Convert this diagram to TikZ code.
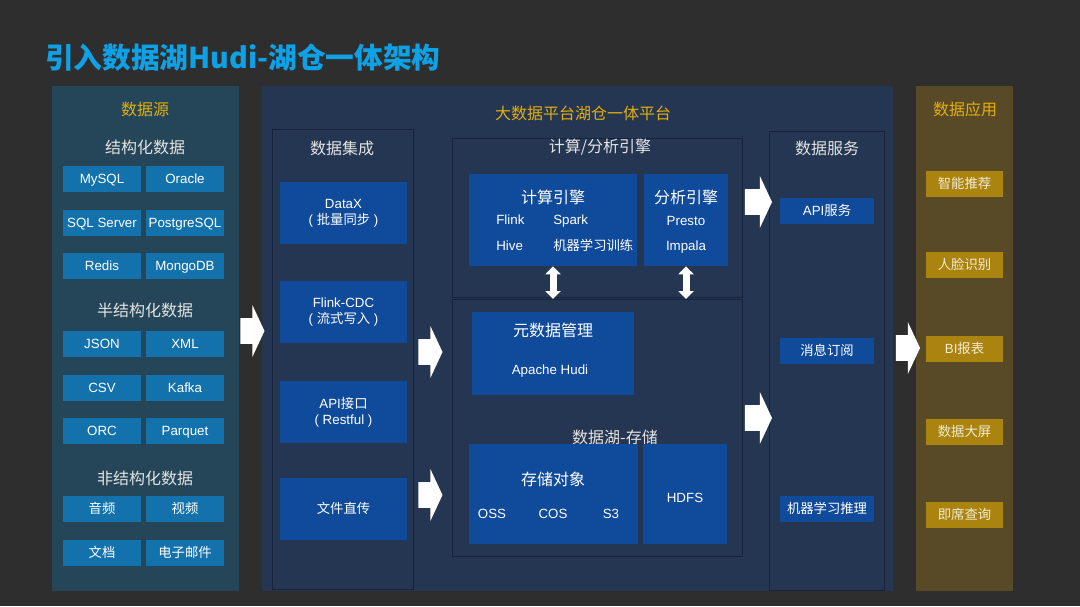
\documentclass[tikz,border=0pt]{standalone}
\usepackage{fontspec}
\setmainfont{Liberation Sans}
\newfontfamily\cjk{Noto Sans CJK SC}
\usepackage{tikz}
\usetikzlibrary{positioning, arrows.meta, shapes.arrows}

\definecolor{bgcol}{HTML}{2E2E2E}
\definecolor{titlecol}{HTML}{0EA1E6}
\definecolor{yellowcol}{HTML}{E2AE0C}
\definecolor{headcol}{HTML}{E3E3E3}
\definecolor{srcpanel}{HTML}{244658}
\definecolor{mainpanel}{HTML}{243652}
\definecolor{framecol}{HTML}{17233A}
\definecolor{boxblue}{HTML}{0F4A9B}
\definecolor{boxsteel}{HTML}{1372AB}
\definecolor{apppanel}{HTML}{594A27}
\definecolor{boxgold}{HTML}{AB8410}
\definecolor{goldtext}{HTML}{F2EAD5}

\begin{document}
\begin{tikzpicture}[x=0.75pt, y=-0.75pt,
  panel/.style={anchor=north west, inner sep=0, outer sep=0, minimum height=378.75pt},
  frame/.style={anchor=north west, inner sep=0, draw=framecol, line width=0.7pt, fill=mainpanel},
  srcbox/.style={fill=boxsteel, minimum width=58.5pt, minimum height=19.5pt, inner sep=0,
                 text height=7.2pt, text depth=0pt, text=white, font=\fontsize{10}{12}\selectfont},
  inbox/.style={fill=boxblue, minimum width=95.25pt, minimum height=46.5pt, inner sep=0,
                align=center, text=white, font=\fontsize{10}{12}\selectfont},
  svcbox/.style={fill=boxblue, minimum width=70.5pt, minimum height=19.5pt, inner sep=0,
                 text height=7.2pt, text depth=0pt, text=white, font=\cjk\fontsize{10}{12}\selectfont},
  appbox/.style={fill=boxgold, minimum width=57.75pt, minimum height=19.5pt, inner sep=0,
                 text height=7.2pt, text depth=0pt, text=goldtext, font=\cjk\fontsize{10}{12}\selectfont},
  bigbox/.style={fill=boxblue, inner sep=0},
  hdr/.style={text=headcol, font=\cjk\fontsize{12}{14}\selectfont},
  yhdr/.style={text=yellowcol, font=\cjk\fontsize{12}{14}\selectfont},
  item/.style={text=white, font=\fontsize{10}{12}\selectfont, inner sep=0,
               text height=7.2pt, text depth=0pt},
  flow/.style={single arrow, fill=white, inner xsep=0pt, inner ysep=9.4pt,
               single arrow head extend=10pt, single arrow tip angle=130, minimum height=18pt},
  dbl/.style={{Triangle[width=11.25pt,length=6pt]}-{Triangle[width=11.25pt,length=6pt]},
              line width=5.25pt, white},
]
% canvas
\fill[bgcol] (0,0) rectangle (1080,606);
\useasboundingbox (0,0) rectangle (1080,606);

\node[anchor=west, inner sep=0, text=titlecol, font=\cjk\bfseries\fontsize{21.5}{26}\selectfont] (title) at (45,58)
  {引入数据湖Hudi-湖仓一体架构};

% three panels
\node[panel, fill=srcpanel, minimum width=140.25pt] (src) at (52,86) {};
\node[panel, fill=mainpanel, minimum width=473.25pt] (main) at (262,86) {};
\node[panel, fill=apppanel, minimum width=72.75pt] (app) at (916,86) {};

\node[yhdr] (srctitle) at (145,109) {数据源};
\node[yhdr] (maintitle) at (583,113) {大数据平台湖仓一体平台};
\node[yhdr] (apptitle) at (965,109) {数据应用};

% data sources
\node[hdr] (struct) at (145,147) {结构化数据};
\node[srcbox] (mysql) at (102,178.5) {MySQL};
\node[srcbox] (oracle) at (185,178.5) {Oracle};
\node[srcbox] (sqlserver) at (102,222.5) {SQL Server};
\node[srcbox] (pg) at (185,222.5) {PostgreSQL};
\node[srcbox] (redis) at (102,266) {Redis};
\node[srcbox] (mongo) at (185,266) {MongoDB};

\node[hdr] (semi) at (145,310) {半结构化数据};
\node[srcbox] (json) at (102,343.5) {JSON};
\node[srcbox] (xml) at (185,343.5) {XML};
\node[srcbox] (csv) at (102,388) {CSV};
\node[srcbox] (kafka) at (185,388) {Kafka};
\node[srcbox] (orc) at (102,431) {ORC};
\node[srcbox] (parquet) at (185,431) {Parquet};

\node[hdr] (unstruct) at (145,478) {非结构化数据};
\node[srcbox, font=\cjk\fontsize{10}{12}\selectfont] (audio) at (102,509) {音频};
\node[srcbox, font=\cjk\fontsize{10}{12}\selectfont] (video) at (185,509) {视频};
\node[srcbox, font=\cjk\fontsize{10}{12}\selectfont] (doc) at (102,553) {文档};
\node[srcbox, font=\cjk\fontsize{10}{12}\selectfont] (mail) at (185,553) {电子邮件};

% data integration
\node[frame, minimum width=105.75pt, minimum height=345pt] (integ) at (272,129) {};
\node[hdr] (integtitle) at (342,148) {数据集成};
\node[inbox] (datax) at (343.5,213) {DataX\\( {\cjk 批量同步} )};
\node[inbox] (cdc) at (343.5,312) {Flink-CDC\\( {\cjk 流式写入} )};
\node[inbox] (api) at (343.5,412) {API{\cjk 接口}\\( Restful )};
\node[inbox, font=\cjk\fontsize{10}{12}\selectfont] (upload) at (343.5,508.5) {文件直传};

% compute / analysis engines
\node[frame, minimum width=217.5pt, minimum height=119.25pt] (engine) at (452,138) {};
\node[hdr] (enginetitle) at (600,147) {计算/分析引擎};
\node[bigbox, minimum width=126pt, minimum height=69pt] (ce) at (553,220) {};
\node[hdr, text=white] (cetitle) at (553,197) {计算引擎};
\node[item, anchor=west] (flink) at (496,220) {Flink};
\node[item, anchor=west] (spark) at (553,220) {Spark};
\node[item, anchor=west] (hive) at (496,246) {Hive};
\node[item, anchor=west, font=\cjk\fontsize{10}{12}\selectfont] (mltrain) at (553,246) {机器学习训练};
\node[bigbox, minimum width=63pt, minimum height=69pt] (ae) at (686,220) {};
\node[hdr, text=white] (aetitle) at (686,197) {分析引擎};
\node[item] (presto) at (686,221) {Presto};
\node[item] (impala) at (686,246) {Impala};

% lake storage
\node[frame, minimum width=217.5pt, minimum height=192.75pt] (lake) at (452,299) {};
\node[bigbox, minimum width=121.5pt, minimum height=62.25pt] (meta) at (553,353.5) {};
\node[hdr, text=white] (metatitle) at (553,330) {元数据管理};
\node[item] (hudi) at (550,370) {Apache Hudi};
\node[hdr] (laketitle) at (615,437) {数据湖-存储};
\node[bigbox, minimum width=126.75pt, minimum height=75pt] (obj) at (553.5,494) {};
\node[hdr, text=white] (objtitle) at (553,479) {存储对象};
\node[item] (oss) at (492,514) {OSS};
\node[item] (cos) at (553,514) {COS};
\node[item] (s3) at (611,514) {S3};
\node[bigbox, minimum width=63pt, minimum height=75pt] (hdfs) at (685,494) {};
\node[item] (hdfstext) at (685,498) {HDFS};

\draw[dbl] (ce.south) -- (ce.south |- lake.north);
\draw[dbl] (ae.south) -- (ae.south |- lake.north);

% data services
\node[frame, minimum width=86.25pt, minimum height=344.25pt] (svc) at (769,131) {};
\node[hdr] (svctitle) at (827,148) {数据服务};
\node[svcbox, font=\fontsize{10}{12}\selectfont] (apisvc) at (827,211) {API{\cjk 服务}};
\node[svcbox] (msg) at (827,351) {消息订阅};
\node[svcbox] (mlinfer) at (827,509) {机器学习推理};

% applications
\node[appbox] (recommend) at (964.5,184) {智能推荐};
\node[appbox] (face) at (964.5,265) {人脸识别};
\node[appbox, font=\fontsize{10}{12}\selectfont] (bi) at (964.5,349) {BI{\cjk 报表}};
\node[appbox] (screen) at (964.5,432) {数据大屏};
\node[appbox] (adhoc) at (964.5,515) {即席查询};

% flow arrows
\node[flow] (a1) at (249.5,331) {};
\node[flow] (a2) at (427.5,352) {};
\node[flow] (a3) at (427.5,495) {};
\node[flow, minimum height=20.25pt] (a4) at (755.5,202) {};
\node[flow, minimum height=20.25pt] (a5) at (755.5,418) {};
\node[flow] (a6) at (905,348) {};
\end{tikzpicture}
\end{document}
